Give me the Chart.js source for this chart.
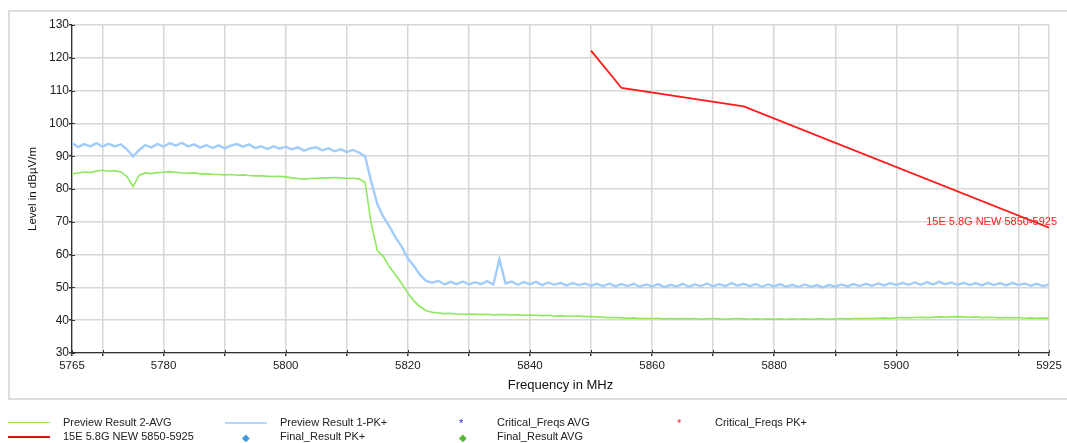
<!DOCTYPE html>
<html lang="en">
<head>
    <meta charset="UTF-8">
    <title>Level vs Frequency 5765-5925 MHz</title>
    <script src="https://cdn.jsdelivr.net/npm/chart.js"></script>
    <style>
        body { margin: 0; background: #fff; overflow: hidden; font-family: "Liberation Sans", Arial, sans-serif; }
        #wrap { position: relative; width: 1067px; height: 443px; }
        #frame { position: absolute; left: 8px; top: 10px; width: 1080px; height: 386px; border: 2px solid #dcdcdc; }
        #chart { position: absolute; left: 0; top: 0; }
        .lg { position: absolute; font-size: 11px; color: #222; white-space: nowrap; line-height: 13px; }
        .sw { position: absolute; height: 0; }
        .mk { position: absolute; line-height: 13px; }
    </style>
</head>
<body>
    <div id="wrap">
        <div id="frame"></div>
        <canvas id="chart" width="1067" height="443"></canvas>
        <div id="legend"></div>
    </div>
    <script>
        // x grid of the preview scans (MHz)
        const freqStart = 5765;
        const freqEnd = 5925;

        // Preview Result 1-PK+ (dBuV/m), one value per MHz from 5765
        const pkValues = [
            94.0, 92.8, 93.7, 93.0, 94.0, 92.9, 93.8, 93.0, 93.6, 92.1,
            89.9, 91.9, 93.4, 92.7, 93.7, 92.9, 94.0, 93.2, 94.1, 93.0,
            93.6, 92.6, 93.4, 92.5, 93.3, 92.4, 93.2, 93.7, 92.9, 93.6,
            92.5, 93.0, 92.2, 93.0, 92.3, 92.9, 92.1, 92.7, 91.7, 92.4,
            92.7, 91.8, 92.4, 91.5, 92.1, 91.3, 91.9, 91.1, 89.9, 82.3,
            75.4, 71.4, 68.5, 65.2, 62.4, 58.8, 56.5, 53.8, 52.0, 51.4,
            52.0, 50.9, 51.7, 51.0, 51.8, 50.9, 51.6, 51.0, 51.9, 50.9,
            58.6, 51.2, 51.8, 50.8, 51.6, 51.0, 51.7, 50.7, 51.5, 50.8,
            51.4, 50.6, 51.3, 50.7, 51.2, 50.5, 51.1, 50.4, 51.2, 50.3,
            51.0, 50.4, 51.1, 50.2, 50.9, 50.3, 51.0, 50.1, 50.8, 50.3,
            51.1, 50.2, 50.9, 50.4, 51.2, 50.3, 51.0, 50.4, 51.3, 50.5,
            51.1, 50.4, 51.0, 50.2, 50.9, 50.3, 51.0, 50.2, 50.8, 50.1,
            50.9, 50.2, 50.7, 50.0, 50.8, 50.2, 50.9, 50.3, 51.0, 50.4,
            51.1, 50.5, 51.2, 50.6, 51.3, 50.7, 51.4, 50.8, 51.5, 50.8,
            51.6, 50.9, 51.7, 51.0, 51.5, 50.8, 51.4, 50.7, 51.3, 50.6,
            51.4, 50.7, 51.3, 50.6, 51.4, 50.7, 51.2, 50.5, 51.1, 50.4,
            50.9
        ];

        // Preview Result 2-AVG (dBuV/m), one value per MHz from 5765
        const avgValues = [
            84.6, 84.9, 85.2, 85.0, 85.5, 85.7, 85.4, 85.6, 85.2, 83.8,
            80.7, 84.2, 84.9, 84.7, 85.0, 85.1, 85.3, 85.1, 84.9, 84.8,
            84.9, 84.6, 84.7, 84.5, 84.4, 84.3, 84.4, 84.2, 84.3, 84.1,
            84.0, 84.0, 83.9, 83.8, 83.9, 83.7, 83.4, 83.2, 83.0, 83.2,
            83.3, 83.4, 83.4, 83.5, 83.4, 83.3, 83.3, 83.1, 82.0, 69.5,
            61.2, 59.4, 56.2, 53.8, 51.2, 48.2, 45.9, 44.1, 42.9, 42.4,
            42.2, 42.0, 42.1, 41.9, 41.8, 41.9, 41.8, 41.7, 41.8, 41.6,
            41.7, 41.7, 41.6, 41.7, 41.5, 41.6, 41.5, 41.4, 41.5, 41.3,
            41.4, 41.3, 41.2, 41.3, 41.1, 41.1, 41.0, 40.9, 40.8, 40.8,
            40.7, 40.6, 40.7, 40.5, 40.6, 40.5, 40.6, 40.4, 40.5, 40.4,
            40.5, 40.4, 40.5, 40.3, 40.4, 40.5, 40.4, 40.3, 40.4, 40.5,
            40.4, 40.3, 40.4, 40.3, 40.4, 40.3, 40.4, 40.3, 40.4, 40.3,
            40.4, 40.3, 40.4, 40.4, 40.3, 40.4, 40.5, 40.4, 40.5, 40.5,
            40.6, 40.5, 40.6, 40.7, 40.6, 40.7, 40.8, 40.7, 40.8, 40.9,
            40.8, 40.9, 41.0, 40.9, 41.0, 41.1, 41.0, 40.9, 41.0, 40.8,
            40.9, 40.8, 40.7, 40.8, 40.7, 40.8, 40.6, 40.7, 40.6, 40.7,
            40.6
        ];

        // 15E 5.8G NEW 5850-5925 limit line
        const limitFreqs = [5850, 5855, 5875, 5925];
        const limitValues = [122.2, 110.8, 105.2, 68.2];
        const limitLabel = '15E 5.8G NEW 5850-5925';

        // axis ticks
        const xTickValues = [5765, 5770, 5780, 5790, 5800, 5810, 5820, 5830, 5840, 5850, 5860, 5870, 5880, 5890, 5900, 5910, 5920, 5925];
        const xTickLabels = [5765, 5780, 5800, 5820, 5840, 5860, 5880, 5900, 5925];
        const yMin = 30, yMax = 130, yStep = 5, yLabelStep = 10;

        const freqs = [];
        for (let f = freqStart; f <= freqEnd; f++) freqs.push(f);
        const toXY = (xs, ys) => ys.map((v, i) => ({ x: xs[i], y: v }));

        const FONT = '"Liberation Sans", Arial, sans-serif';
        Chart.defaults.font.family = FONT;

        // red text next to the end of the limit line
        const limitText = {
            id: 'limitText',
            afterDatasetsDraw(chart) {
                const { ctx, scales: { x, y } } = chart;
                const last = limitValues.length - 1;
                const px = x.getPixelForValue(limitFreqs[last]) + 8;
                const py = y.getPixelForValue(limitValues[last]) - 6;
                ctx.save();
                ctx.font = '11px ' + FONT;
                ctx.fillStyle = '#ff2020';
                ctx.textAlign = 'right';
                ctx.textBaseline = 'middle';
                ctx.fillText(limitLabel, px, py);
                ctx.restore();
            }
        };

        // small tick marks inside the plot, so they cross the axes
        const innerTicks = {
            id: 'innerTicks',
            afterDraw(chart) {
                const { ctx, chartArea: a, scales: { x, y } } = chart;
                ctx.save();
                ctx.strokeStyle = '#333';
                ctx.lineWidth = 1;
                x.ticks.forEach(t => {
                    const px = Math.round(x.getPixelForValue(t.value)) + 0.5;
                    ctx.beginPath(); ctx.moveTo(px, a.bottom); ctx.lineTo(px, a.bottom - 3); ctx.stroke();
                });
                y.ticks.forEach(t => {
                    const py = Math.round(y.getPixelForValue(t.value)) + 0.5;
                    ctx.beginPath(); ctx.moveTo(a.left, py); ctx.lineTo(a.left + 3, py); ctx.stroke();
                });
                ctx.restore();
            }
        };

        new Chart(document.getElementById('chart'), {
            type: 'line',
            data: {
                datasets: [
                    { label: 'Preview Result 2-AVG', data: toXY(freqs, avgValues), borderColor: '#8ee860', borderWidth: 1.6, pointRadius: 0 },
                    { label: 'Preview Result 1-PK+', data: toXY(freqs, pkValues), borderColor: '#a2cdfa', borderWidth: 2.4, pointRadius: 0 },
                    { label: limitLabel, data: toXY(limitFreqs, limitValues), borderColor: '#ff1a1a', borderWidth: 1.8, pointRadius: 0 }
                ]
            },
            options: {
                responsive: false,
                animation: false,
                devicePixelRatio: 1,
                layout: { padding: { left: 0, right: 18, top: 25, bottom: 50 } },
                plugins: { legend: { display: false }, tooltip: { enabled: false } },
                scales: {
                    x: {
                        type: 'linear',
                        min: freqStart,
                        max: freqEnd,
                        afterBuildTicks: (s) => { s.ticks = xTickValues.map(v => ({ value: v })); },
                        afterFit: (s) => { s.height = 40; },
                        ticks: {
                            autoSkip: false, maxRotation: 0, padding: 3,
                            color: '#222', font: { size: 11.5 },
                            callback: (v) => xTickLabels.includes(v) ? String(v) : ''
                        },
                        grid: { color: '#d8d8d8', lineWidth: 1.5, tickColor: '#333', tickLength: 3 },
                        border: { color: '#333', width: 1.3 },
                        title: { display: true, text: 'Frequency in MHz', color: '#111', font: { size: 13 }, padding: { top: 0, bottom: 0 } }
                    },
                    y: {
                        min: yMin,
                        max: yMax,
                        afterFit: (s) => { s.width = 72; },
                        ticks: {
                            stepSize: yStep, padding: 0,
                            color: '#222', font: { size: 12 },
                            callback: (v) => v % yLabelStep === 0 ? String(v) : ''
                        },
                        grid: { color: '#d8d8d8', lineWidth: 1.5, tickColor: '#333', tickLength: 3 },
                        border: { color: '#333', width: 1.3 },
                        title: { display: true, text: 'Level in dBµV/m', color: '#111', font: { size: 11.5 }, padding: { top: 26, bottom: 0 } }
                    }
                }
            },
            plugins: [limitText, innerTicks]
        });

        // legend under the frame
        const legendItems = [
            { text: 'Preview Result 2-AVG', kind: 'line', color: '#8ee860', w: 1.5, x: 8, y: 423 },
            { text: 'Preview Result 1-PK+', kind: 'line', color: '#b5d8fb', w: 2, x: 225, y: 423 },
            { text: 'Critical_Freqs AVG', kind: 'mark', sym: '*', color: '#1a1aee', x: 459, y: 423 },
            { text: 'Critical_Freqs PK+', kind: 'mark', sym: '*', color: '#ee2222', x: 677, y: 423 },
            { text: limitLabel, kind: 'line', color: '#e01010', w: 2, x: 8, y: 437 },
            { text: 'Final_Result PK+', kind: 'mark', sym: '\u25C6', color: '#3b9be0', x: 242, y: 437 },
            { text: 'Final_Result AVG', kind: 'mark', sym: '\u25C6', color: '#55bb33', x: 459, y: 437 }
        ];
        const legend = document.getElementById('legend');
        legendItems.forEach(it => {
            if (it.kind === 'line') {
                const s = document.createElement('div');
                s.className = 'sw';
                s.style.left = it.x + 'px';
                s.style.top = (it.y - it.w / 2) + 'px';
                s.style.width = '42px';
                s.style.borderTop = it.w + 'px solid ' + it.color;
                legend.appendChild(s);
            } else {
                const m = document.createElement('div');
                m.className = 'mk';
                m.textContent = it.sym;
                m.style.color = it.color;
                m.style.left = it.x + 'px';
                m.style.top = (it.y - 6) + 'px';
                m.style.fontSize = it.sym === '*' ? '11px' : '10px';
                legend.appendChild(m);
            }
            const t = document.createElement('div');
            t.className = 'lg';
            t.textContent = it.text;
            t.style.left = (it.kind === 'line' ? it.x + 55 : it.x + 38) + 'px';
            t.style.top = (it.y - 7) + 'px';
            legend.appendChild(t);
        });
    </script>
</body>
</html>
